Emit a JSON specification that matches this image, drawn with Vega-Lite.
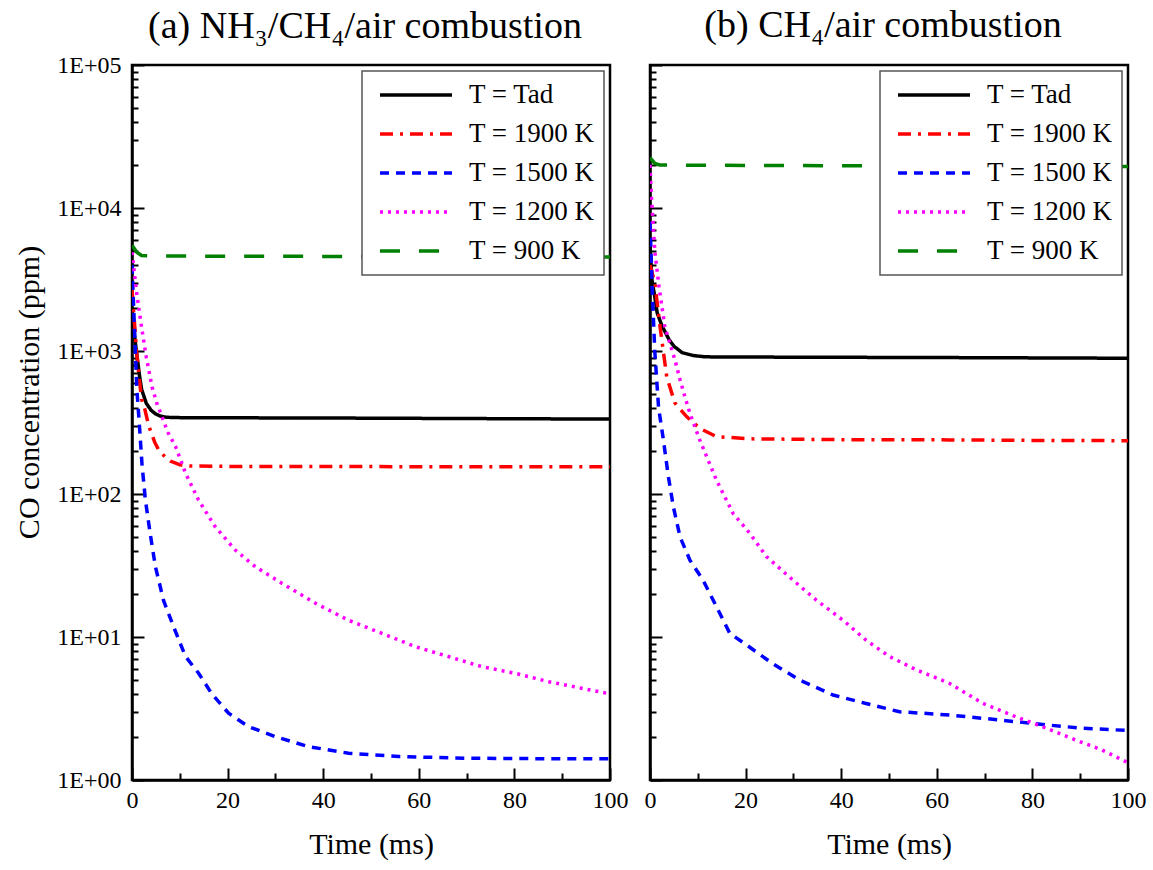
{
  "$schema": "https://vega.github.io/schema/vega-lite/v6.json",
  "background": "white",
  "padding": {"left": 12, "top": 5, "right": 4, "bottom": 4},
  "datasets": {
    "a": [
      {"s": "T = Tad", "t": 0, "v": 1900}, {"s": "T = Tad", "t": 0.5, "v": 1300}, {"s": "T = Tad", "t": 1, "v": 950}, {"s": "T = Tad", "t": 1.5, "v": 700}, {"s": "T = Tad", "t": 2, "v": 540}, {"s": "T = Tad", "t": 3, "v": 430}, {"s": "T = Tad", "t": 4, "v": 385}, {"s": "T = Tad", "t": 5, "v": 362}, {"s": "T = Tad", "t": 6, "v": 350}, {"s": "T = Tad", "t": 7, "v": 345}, {"s": "T = Tad", "t": 8, "v": 343}, {"s": "T = Tad", "t": 10, "v": 342}, {"s": "T = Tad", "t": 20, "v": 341}, {"s": "T = Tad", "t": 40, "v": 340}, {"s": "T = Tad", "t": 60, "v": 338}, {"s": "T = Tad", "t": 80, "v": 336}, {"s": "T = Tad", "t": 100, "v": 334},
      {"s": "T = 1900 K", "t": 0, "v": 2700}, {"s": "T = 1900 K", "t": 0.5, "v": 1600}, {"s": "T = 1900 K", "t": 1, "v": 950}, {"s": "T = 1900 K", "t": 1.5, "v": 650}, {"s": "T = 1900 K", "t": 2, "v": 460}, {"s": "T = 1900 K", "t": 2.7, "v": 390}, {"s": "T = 1900 K", "t": 3.5, "v": 300}, {"s": "T = 1900 K", "t": 4.8, "v": 228}, {"s": "T = 1900 K", "t": 5.6, "v": 203}, {"s": "T = 1900 K", "t": 6.9, "v": 182}, {"s": "T = 1900 K", "t": 8, "v": 170}, {"s": "T = 1900 K", "t": 9, "v": 165}, {"s": "T = 1900 K", "t": 10, "v": 160}, {"s": "T = 1900 K", "t": 12, "v": 157}, {"s": "T = 1900 K", "t": 20, "v": 156}, {"s": "T = 1900 K", "t": 40, "v": 156}, {"s": "T = 1900 K", "t": 60, "v": 155}, {"s": "T = 1900 K", "t": 80, "v": 155}, {"s": "T = 1900 K", "t": 100, "v": 155},
      {"s": "T = 1500 K", "t": 0, "v": 4000}, {"s": "T = 1500 K", "t": 0.5, "v": 1500}, {"s": "T = 1500 K", "t": 1, "v": 550}, {"s": "T = 1500 K", "t": 1.5, "v": 320}, {"s": "T = 1500 K", "t": 2.1, "v": 160}, {"s": "T = 1500 K", "t": 2.8, "v": 91}, {"s": "T = 1500 K", "t": 3.8, "v": 53}, {"s": "T = 1500 K", "t": 4.9, "v": 31}, {"s": "T = 1500 K", "t": 6.6, "v": 18}, {"s": "T = 1500 K", "t": 8.7, "v": 11.8}, {"s": "T = 1500 K", "t": 11.2, "v": 7.3}, {"s": "T = 1500 K", "t": 13.9, "v": 5.6}, {"s": "T = 1500 K", "t": 16.7, "v": 4.0}, {"s": "T = 1500 K", "t": 20.2, "v": 2.93}, {"s": "T = 1500 K", "t": 24.4, "v": 2.36}, {"s": "T = 1500 K", "t": 30, "v": 2.01}, {"s": "T = 1500 K", "t": 37, "v": 1.71}, {"s": "T = 1500 K", "t": 45.3, "v": 1.54}, {"s": "T = 1500 K", "t": 55.8, "v": 1.46}, {"s": "T = 1500 K", "t": 69.7, "v": 1.42}, {"s": "T = 1500 K", "t": 85, "v": 1.41}, {"s": "T = 1500 K", "t": 100, "v": 1.41},
      {"s": "T = 1200 K", "t": 0, "v": 4900}, {"s": "T = 1200 K", "t": 0.5, "v": 3500}, {"s": "T = 1200 K", "t": 1, "v": 2500}, {"s": "T = 1200 K", "t": 2.1, "v": 1400}, {"s": "T = 1200 K", "t": 3, "v": 900}, {"s": "T = 1200 K", "t": 4.2, "v": 560}, {"s": "T = 1200 K", "t": 5.2, "v": 430}, {"s": "T = 1200 K", "t": 6.3, "v": 345}, {"s": "T = 1200 K", "t": 7.5, "v": 270}, {"s": "T = 1200 K", "t": 9.1, "v": 215}, {"s": "T = 1200 K", "t": 11.2, "v": 140}, {"s": "T = 1200 K", "t": 13.9, "v": 91}, {"s": "T = 1200 K", "t": 17.4, "v": 59}, {"s": "T = 1200 K", "t": 21.6, "v": 40.6}, {"s": "T = 1200 K", "t": 25.8, "v": 31}, {"s": "T = 1200 K", "t": 31.4, "v": 23.7}, {"s": "T = 1200 K", "t": 38.4, "v": 17.2}, {"s": "T = 1200 K", "t": 45.3, "v": 13.1}, {"s": "T = 1200 K", "t": 52.3, "v": 10.6}, {"s": "T = 1200 K", "t": 59.3, "v": 8.55}, {"s": "T = 1200 K", "t": 66.2, "v": 7.3}, {"s": "T = 1200 K", "t": 73.2, "v": 6.2}, {"s": "T = 1200 K", "t": 80.2, "v": 5.57}, {"s": "T = 1200 K", "t": 87.2, "v": 4.87}, {"s": "T = 1200 K", "t": 94.1, "v": 4.38}, {"s": "T = 1200 K", "t": 100, "v": 4.0},
      {"s": "T = 900 K", "t": 0, "v": 5500}, {"s": "T = 900 K", "t": 1, "v": 4900}, {"s": "T = 900 K", "t": 2, "v": 4650}, {"s": "T = 900 K", "t": 5, "v": 4620}, {"s": "T = 900 K", "t": 20, "v": 4600}, {"s": "T = 900 K", "t": 50, "v": 4580}, {"s": "T = 900 K", "t": 80, "v": 4560}, {"s": "T = 900 K", "t": 100, "v": 4550}
    ],
    "b": [
      {"s": "T = Tad", "t": 0, "v": 5500}, {"s": "T = Tad", "t": 0.4, "v": 3150}, {"s": "T = Tad", "t": 1, "v": 2400}, {"s": "T = Tad", "t": 1.5, "v": 1850}, {"s": "T = Tad", "t": 2.5, "v": 1500}, {"s": "T = Tad", "t": 4, "v": 1200}, {"s": "T = Tad", "t": 5, "v": 1080}, {"s": "T = Tad", "t": 6.7, "v": 975}, {"s": "T = Tad", "t": 9, "v": 930}, {"s": "T = Tad", "t": 11.5, "v": 910}, {"s": "T = Tad", "t": 30, "v": 905}, {"s": "T = Tad", "t": 60, "v": 900}, {"s": "T = Tad", "t": 80, "v": 895}, {"s": "T = Tad", "t": 100, "v": 890},
      {"s": "T = 1900 K", "t": 0, "v": 4000}, {"s": "T = 1900 K", "t": 1, "v": 3000}, {"s": "T = 1900 K", "t": 2.1, "v": 1480}, {"s": "T = 1900 K", "t": 3.5, "v": 660}, {"s": "T = 1900 K", "t": 5.2, "v": 433}, {"s": "T = 1900 K", "t": 7.65, "v": 348}, {"s": "T = 1900 K", "t": 10.4, "v": 288}, {"s": "T = 1900 K", "t": 13.9, "v": 252}, {"s": "T = 1900 K", "t": 20.9, "v": 243}, {"s": "T = 1900 K", "t": 40, "v": 240}, {"s": "T = 1900 K", "t": 62.6, "v": 239}, {"s": "T = 1900 K", "t": 80, "v": 237}, {"s": "T = 1900 K", "t": 100, "v": 236},
      {"s": "T = 1500 K", "t": 0, "v": 8000}, {"s": "T = 1500 K", "t": 0.5, "v": 2500}, {"s": "T = 1500 K", "t": 1, "v": 1000}, {"s": "T = 1500 K", "t": 1.4, "v": 627}, {"s": "T = 1500 K", "t": 1.8, "v": 400}, {"s": "T = 1500 K", "t": 2.8, "v": 240}, {"s": "T = 1500 K", "t": 3.8, "v": 135}, {"s": "T = 1500 K", "t": 4.9, "v": 81}, {"s": "T = 1500 K", "t": 6.3, "v": 50}, {"s": "T = 1500 K", "t": 8.35, "v": 34.5}, {"s": "T = 1500 K", "t": 11.1, "v": 25}, {"s": "T = 1500 K", "t": 13.9, "v": 16.3}, {"s": "T = 1500 K", "t": 16.7, "v": 10.6}, {"s": "T = 1500 K", "t": 20.2, "v": 8.8}, {"s": "T = 1500 K", "t": 25.7, "v": 6.5}, {"s": "T = 1500 K", "t": 31.3, "v": 5.0}, {"s": "T = 1500 K", "t": 38.3, "v": 3.93}, {"s": "T = 1500 K", "t": 45.2, "v": 3.43}, {"s": "T = 1500 K", "t": 52.2, "v": 3.0}, {"s": "T = 1500 K", "t": 62.6, "v": 2.85}, {"s": "T = 1500 K", "t": 73, "v": 2.63}, {"s": "T = 1500 K", "t": 83.5, "v": 2.42}, {"s": "T = 1500 K", "t": 90.5, "v": 2.3}, {"s": "T = 1500 K", "t": 100, "v": 2.22},
      {"s": "T = 1200 K", "t": 0, "v": 20000}, {"s": "T = 1200 K", "t": 0.3, "v": 12000}, {"s": "T = 1200 K", "t": 1, "v": 5000}, {"s": "T = 1200 K", "t": 1.9, "v": 2800}, {"s": "T = 1200 K", "t": 3.1, "v": 1480}, {"s": "T = 1200 K", "t": 5.2, "v": 870}, {"s": "T = 1200 K", "t": 6.3, "v": 627}, {"s": "T = 1200 K", "t": 7.3, "v": 478}, {"s": "T = 1200 K", "t": 8.35, "v": 367}, {"s": "T = 1200 K", "t": 10.4, "v": 239}, {"s": "T = 1200 K", "t": 13.9, "v": 125}, {"s": "T = 1200 K", "t": 17.4, "v": 73}, {"s": "T = 1200 K", "t": 20.9, "v": 53}, {"s": "T = 1200 K", "t": 24.4, "v": 36.4}, {"s": "T = 1200 K", "t": 29.9, "v": 25}, {"s": "T = 1200 K", "t": 34.8, "v": 18.1}, {"s": "T = 1200 K", "t": 40.4, "v": 13.1}, {"s": "T = 1200 K", "t": 45.2, "v": 9.5}, {"s": "T = 1200 K", "t": 50.1, "v": 7.3}, {"s": "T = 1200 K", "t": 55.7, "v": 5.9}, {"s": "T = 1200 K", "t": 62.6, "v": 4.75}, {"s": "T = 1200 K", "t": 69.6, "v": 3.44}, {"s": "T = 1200 K", "t": 76.5, "v": 2.77}, {"s": "T = 1200 K", "t": 82.1, "v": 2.36}, {"s": "T = 1200 K", "t": 89.1, "v": 1.9}, {"s": "T = 1200 K", "t": 94.6, "v": 1.62}, {"s": "T = 1200 K", "t": 100, "v": 1.32},
      {"s": "T = 900 K", "t": 0, "v": 22500}, {"s": "T = 900 K", "t": 1, "v": 20500}, {"s": "T = 900 K", "t": 2, "v": 20000}, {"s": "T = 900 K", "t": 10, "v": 19900}, {"s": "T = 900 K", "t": 50, "v": 19700}, {"s": "T = 900 K", "t": 100, "v": 19500}
    ]
  },
  "config": {
    "font": "Liberation Serif",
    "view": {"stroke": "black", "strokeWidth": 2.5},
    "axis": {
      "domainColor": "black", "domainWidth": 2.5, "tickColor": "black", "tickWidth": 2,
      "labelColor": "black", "labelFont": "Liberation Serif", "labelFontSize": 24,
      "titleFont": "Liberation Serif", "titleFontSize": 30, "titleFontWeight": "normal", "titleColor": "black",
      "grid": false, "labelOverlap": false, "labelFlush": false
    },
    "title": {"font": "Liberation Serif", "fontSize": 38, "fontWeight": "normal", "color": "black", "anchor": "middle", "frame": "group", "dx": -6},
    "legend": {
      "orient": "top-right", "offset": 6, "labelFont": "Liberation Serif", "labelFontSize": 27, "labelColor": "black",
      "symbolType": "stroke", "symbolSize": 5184, "symbolStrokeWidth": 3.5, "symbolOffset": 7, "labelOffset": 15,
      "clipHeight": 30, "rowPadding": 9,
      "padding": 9, "strokeColor": "#555555", "strokeWidth": 1.5, "fillColor": "white", "labelLimit": 0
    }
  },
  "spacing": 40,
  "bounds": "flush",
  "resolve": {
    "scale": {"color": "independent", "strokeDash": "independent"},
    "legend": {"color": "independent", "strokeDash": "independent"}
  },
  "hconcat": [
    {
      "title": {"text": "(a) NH₃/CH₄/air combustion", "offset": 7},
      "width": 478, "height": 715,
      "data": {"name": "a"},
      "mark": {"type": "line", "strokeWidth": 3.5, "clip": true},
      "encoding": {
        "x": {"field": "t", "type": "quantitative", "scale": {"domain": [0, 100], "nice": false},
          "axis": {"values": [0, 10, 20, 30, 40, 50, 60, 70, 80, 90, 100], "title": "Time (ms)", "titlePadding": 12,
            "tickSize": {"condition": {"test": "datum.value % 20 === 0", "value": -12}, "value": -7},
            "labelExpr": "datum.value % 20 === 0 ? datum.label : ''", "labelPadding": 20}},
        "y": {"field": "v", "type": "quantitative", "scale": {"type": "log", "domain": [1, 100000], "nice": false},
          "axis": {"values": [1, 2, 3, 4, 5, 6, 7, 8, 9, 10, 20, 30, 40, 50, 60, 70, 80, 90, 100, 200, 300, 400, 500, 600, 700, 800, 900, 1000, 2000, 3000, 4000, 5000, 6000, 7000, 8000, 9000, 10000, 20000, 30000, 40000, 50000, 60000, 70000, 80000, 90000, 100000],
            "title": "CO concentration (ppm)", "titleX": -88, "titleY": 327,
            "tickSize": {"condition": {"test": "abs(log(datum.value)/LN10 - round(log(datum.value)/LN10)) < 0.001", "value": -12}, "value": -6},
            "labelExpr": "abs(log(datum.value)/LN10 - round(log(datum.value)/LN10)) < 0.001 ? '1E+0' + round(log(datum.value)/LN10) : ''",
            "labelPadding": 23}},
        "color": {"field": "s", "type": "nominal",
          "scale": {"domain": ["T = Tad", "T = 1900 K", "T = 1500 K", "T = 1200 K", "T = 900 K"], "range": ["#000000", "#ff0000", "#0000ff", "#ff00ff", "#008000"]},
          "legend": {"title": null}},
        "strokeDash": {"field": "s", "type": "nominal",
          "scale": {"domain": ["T = Tad", "T = 1900 K", "T = 1500 K", "T = 1200 K", "T = 900 K"], "range": [[1, 0], [13, 7, 3, 7], [9, 7], [3, 5], [20, 19]]},
          "legend": {"title": null}}
      }
    },
    {
      "title": {"text": "(b) CH₄/air combustion", "offset": 19},
      "width": 478, "height": 715,
      "data": {"name": "b"},
      "mark": {"type": "line", "strokeWidth": 3.5, "clip": true},
      "encoding": {
        "x": {"field": "t", "type": "quantitative", "scale": {"domain": [0, 100], "nice": false},
          "axis": {"values": [0, 10, 20, 30, 40, 50, 60, 70, 80, 90, 100], "title": "Time (ms)", "titlePadding": 12,
            "tickSize": {"condition": {"test": "datum.value % 20 === 0", "value": -12}, "value": -7},
            "labelExpr": "datum.value % 20 === 0 ? datum.label : ''", "labelPadding": 20}},
        "y": {"field": "v", "type": "quantitative", "scale": {"type": "log", "domain": [1, 100000], "nice": false},
          "axis": {"values": [1, 2, 3, 4, 5, 6, 7, 8, 9, 10, 20, 30, 40, 50, 60, 70, 80, 90, 100, 200, 300, 400, 500, 600, 700, 800, 900, 1000, 2000, 3000, 4000, 5000, 6000, 7000, 8000, 9000, 10000, 20000, 30000, 40000, 50000, 60000, 70000, 80000, 90000, 100000],
            "title": null, "labels": false,
            "tickSize": {"condition": {"test": "abs(log(datum.value)/LN10 - round(log(datum.value)/LN10)) < 0.001", "value": -12}, "value": -6}}},
        "color": {"field": "s", "type": "nominal",
          "scale": {"domain": ["T = Tad", "T = 1900 K", "T = 1500 K", "T = 1200 K", "T = 900 K"], "range": ["#000000", "#ff0000", "#0000ff", "#ff00ff", "#008000"]},
          "legend": {"title": null}},
        "strokeDash": {"field": "s", "type": "nominal",
          "scale": {"domain": ["T = Tad", "T = 1900 K", "T = 1500 K", "T = 1200 K", "T = 900 K"], "range": [[1, 0], [13, 7, 3, 7], [9, 7], [3, 5], [20, 19]]},
          "legend": {"title": null}}
      }
    }
  ]
}
